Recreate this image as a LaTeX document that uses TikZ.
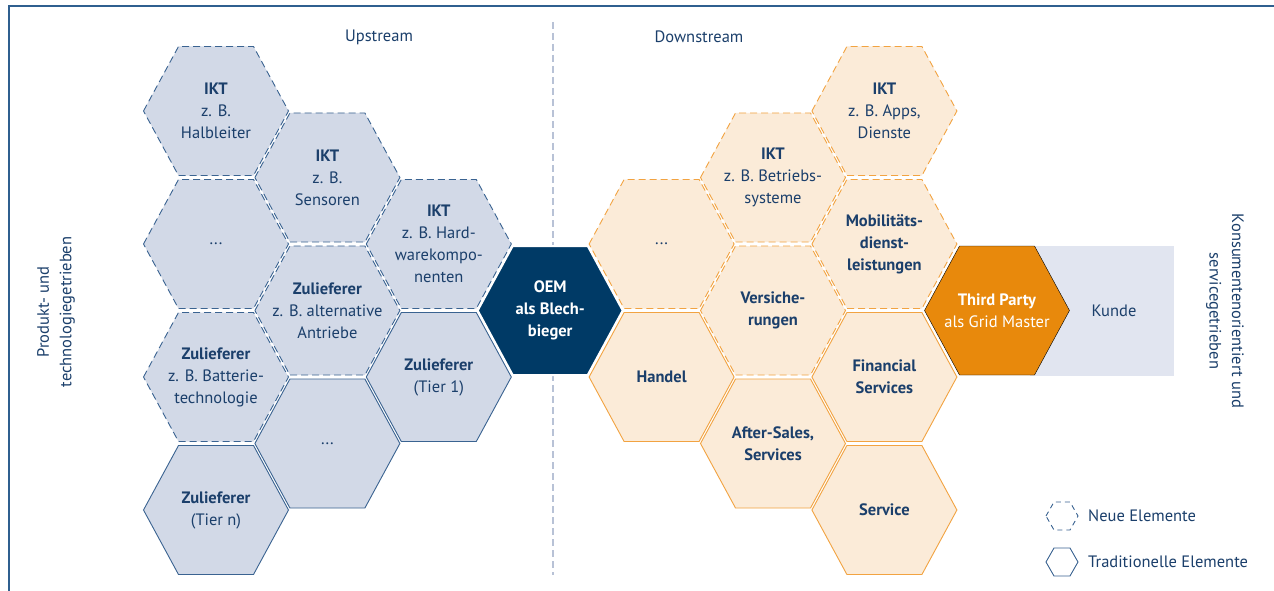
\documentclass[tikz,border=0pt]{standalone}
\usepackage{fontspec}
\setmainfont{PT Sans}
\definecolor{navy}{HTML}{1B3F6B}
\definecolor{frameblue}{HTML}{2F5F8F}
\definecolor{bluefill}{HTML}{D2D9E7}
\definecolor{blueline}{HTML}{3A6391}
\definecolor{orfill}{HTML}{FBEBD8}
\definecolor{orline}{HTML}{F2A341}
\definecolor{oemfill}{HTML}{003A66}
\definecolor{tpfill}{HTML}{E8890C}
\definecolor{kundefill}{HTML}{E1E5F0}
\definecolor{midline}{HTML}{B8C2D6}
\tikzset{
  bluehex/.style={fill=bluefill, draw=blueline, line width=0.9pt},
  orhex/.style={fill=orfill, draw=orline, line width=0.9pt},
  newel/.style={dash pattern=on 7pt off 4pt},
  hextext/.style={align=center, text=navy, font=\fontsize{16.5}{22}\selectfont, inner sep=0pt},
  labeltext/.style={text=navy, font=\fontsize{16.5}{22.5}\selectfont, inner sep=0pt},
}
\newcommand{\hexnode}[5]{%
  \draw[#4, shift={(#1,#2)}] (-72.5,0) -- (-37.5,-64.5) -- (37.5,-64.5) -- (72.5,0) -- (37.5,64.5) -- (-37.5,64.5) -- cycle;
  \node[hextext] (#3) at (#1,#2) {#5};}
\begin{document}
\begin{tikzpicture}[x=1pt,y=-1pt]
\useasboundingbox (0,0) rectangle (1274,591);
\fill[white] (0,0) rectangle (1274,591);
% frame
\coordinate (fbl) at (9,591);
\coordinate (ftl) at (9,6);
\coordinate (ftr) at (1274,6);
\draw[frameblue, line width=1.3pt] (fbl) -- (ftl) -- (ftr);
% middle dashed line
\coordinate (mtop) at (553,22);
\coordinate (mbot) at (553,575);
\draw[midline, line width=2.6pt, dash pattern=on 7pt off 4pt] (mtop) -- (mbot);
% headings
\node[labeltext] (up) at (379,37) {Upstream};
\node[labeltext] (down) at (699,37) {Downstream};
% side labels
\node[labeltext, rotate=90, align=center] (lside) at (56,312) {Produkt- und\\technologiegetrieben};
\node[labeltext, rotate=-90, align=center] (rside) at (1225,311) {Konsumentenorientiert und\\servicegetrieben};
% Kunde
\fill[kundefill] (1030,246) rectangle (1174,376);
\node[labeltext] (kunde) at (1114,311) {Kunde};
% upstream hexes
\hexnode{216}{111}{h11}{bluehex,newel}{\textbf{IKT}\\z. B.\\Halbleiter}
\hexnode{216}{244}{h12}{bluehex,newel}{...}
\hexnode{216}{377}{h13}{bluehex,newel}{\textbf{Zulieferer}\\z. B. Batterie-\\technologie}
\hexnode{216}{510}{h14}{bluehex}{\textbf{Zulieferer}\\(Tier n)}
\hexnode{327.4}{177.5}{h21}{bluehex,newel}{\textbf{IKT}\\z. B.\\Sensoren}
\hexnode{327.4}{310.5}{h22}{bluehex,newel}{\textbf{Zulieferer}\\z. B. alternative\\Antriebe}
\hexnode{327.4}{443.5}{h23}{bluehex}{...}
\hexnode{438.8}{244}{h31}{bluehex,newel}{\textbf{IKT}\\z. B. Hard-\\warekompo-\\nenten}
\hexnode{438.8}{377}{h32}{bluehex}{\textbf{Zulieferer}\\(Tier 1)}
% OEM
\hexnode{550.2}{310.5}{oem}{fill=oemfill, draw=white, line width=2pt}{\textcolor{white}{\textbf{OEM}}\\\textcolor{white}{\textbf{als Blech-}}\\\textcolor{white}{\textbf{bieger}}}
% downstream hexes
\hexnode{661.6}{244}{h51}{orhex,newel}{...}
\hexnode{661.6}{377}{h52}{orhex}{\textbf{Handel}}
\hexnode{773}{177.5}{h61}{orhex,newel}{\textbf{IKT}\\z. B. Betriebs-\\systeme}
\hexnode{773}{310.5}{h62}{orhex,newel}{\textbf{Versiche-}\\\textbf{rungen}}
\hexnode{773}{443.5}{h63}{orhex}{\textbf{After-Sales,}\\\textbf{Services}}
\hexnode{884.4}{111}{h71}{orhex,newel}{\textbf{IKT}\\z. B. Apps,\\Dienste}
\hexnode{884.4}{244}{h72}{orhex,newel}{\textbf{Mobilitäts-}\\\textbf{dienst-}\\\textbf{leistungen}}
\hexnode{884.4}{377}{h73}{orhex}{\textbf{Financial}\\\textbf{Services}}
\hexnode{884.4}{510}{h74}{orhex}{\textbf{Service}}
% Third party
\hexnode{997}{310.5}{tp}{fill=tpfill}{\textcolor{white}{\textbf{Third Party}}\\\textcolor{white}{als Grid Master}}
% legend
\draw[blueline, line width=0.9pt, dash pattern=on 5pt off 4pt, shift={(1062,516)}] (-16,0) -- (-8,-14) -- (8,-14) -- (16,0) -- (8,14) -- (-8,14) -- cycle;
\node[labeltext, anchor=west] (lnew) at (1088,516) {Neue Elemente};
\draw[blueline, line width=0.9pt, shift={(1062,562)}] (-16,0) -- (-8,-14) -- (8,-14) -- (16,0) -- (8,14) -- (-8,14) -- cycle;
\node[labeltext, anchor=west] (ltrad) at (1088,562) {Traditionelle Elemente};
\end{tikzpicture}
\end{document}
